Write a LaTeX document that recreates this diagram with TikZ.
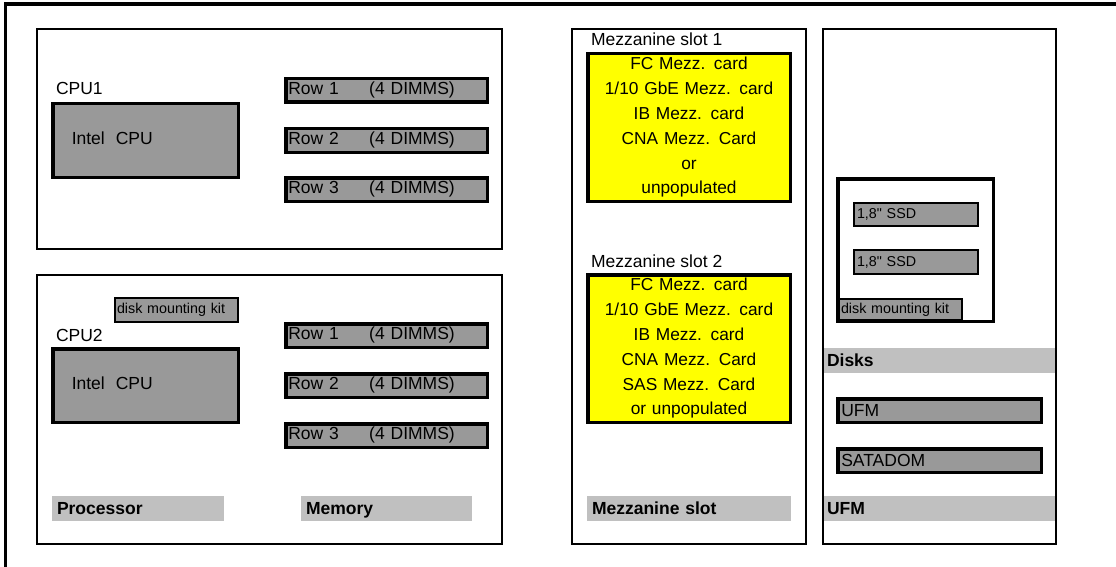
\documentclass[tikz,border=0pt]{standalone}
\usepackage{fontspec}
\setmainfont{Liberation Sans}
% same face without TeX input ligatures, so that " stays a straight inch mark
\newfontfamily\inchfont{Liberation Sans}
\definecolor{chipgray}{HTML}{999999}
\definecolor{bargray}{HTML}{C0C0C0}
\definecolor{cardyellow}{HTML}{FFFF00}
\newcommand\mainsz{\fontsize{17.5}{21}\selectfont}
\newcommand\smallsz{\fontsize{14.3}{17}\selectfont}
\newcommand\cardsz{\fontsize{17.3}{24.8}\selectfont}
\begin{document}
\begin{tikzpicture}[x=1pt,y=-1pt,
  every node/.style={outer sep=0pt, anchor=north west, font=\mainsz},
  bay/.style={draw, line width=2pt, inner sep=0pt},
  chip/.style={draw, line width=3.5pt, fill=chipgray, inner sep=0pt, align=left,
    text height=12.6pt, text depth=4pt},
  slab/.style={chip, inner xsep=2.5pt, text width=196.5pt, minimum height=23.5pt},
  module/.style={chip, inner xsep=3.5pt, text width=196.5pt, minimum height=23.5pt, text depth=0.5pt},
  part/.style={draw, line width=2pt, fill=chipgray, inner sep=0pt, align=left, font=\smallsz},
  bar/.style={fill=bargray, inner sep=0pt, inner xsep=5pt, minimum height=25pt, align=left,
    font=\mainsz\bfseries, text height=12.6pt, text depth=1.5pt},
  card/.style={draw, line width=3.5pt, fill=cardyellow, inner sep=0pt, align=center,
    font=\cardsz, text width=202.5pt, minimum height=147.5pt},
  caption/.style={inner sep=0pt, anchor=west}
]
\useasboundingbox (0,0) rectangle (1116,567);

% chassis edge
\draw[line width=3.5pt] (5.5,567) -- (5.5,3.8) -- (1116,3.8);

% bays
\node[bay, minimum width=465pt, minimum height=220pt] (procA) at (37,29) {};
\node[bay, minimum width=465pt, minimum height=269pt] (procB) at (37,275) {};
\node[bay, minimum width=234pt, minimum height=515pt] (mezz) at (572,29) {};
\node[bay, minimum width=233pt, minimum height=515pt] (ufmbay) at (823,29) {};

% processors
\node[caption] (cpu1lbl) at (56,88) {CPU1};
\node[chip, inner xsep=19pt, text width=147.5pt, minimum height=73.5pt] (cpu1) at (52.75,103.75) {Intel\hspace{11pt}CPU};
\node[part, inner xsep=2pt, text width=119pt, minimum height=24pt] (kitA) at (115,298) {disk mounting kit};
\node[caption] (cpu2lbl) at (56,335) {CPU2};
\node[chip, inner xsep=19pt, text width=147.5pt, minimum height=73.5pt] (cpu2) at (52.75,348.75) {Intel\hspace{11pt}CPU};

% memory rows
\node[slab] (a1) at (285.75,78.75)  {\makebox[81pt][l]{Row 1}(4 DIMMS)};
\node[slab] (a2) at (285.75,128.75) {\makebox[81pt][l]{Row 2}(4 DIMMS)};
\node[slab] (a3) at (285.75,177.75) {\makebox[81pt][l]{Row 3}(4 DIMMS)};
\node[slab] (b1) at (285.75,323.75) {\makebox[81pt][l]{Row 1}(4 DIMMS)};
\node[slab] (b2) at (285.75,373.75) {\makebox[81pt][l]{Row 2}(4 DIMMS)};
\node[slab] (b3) at (285.75,423.75) {\makebox[81pt][l]{Row 3}(4 DIMMS)};

% mezzanine slots
\node[caption] (slot1lbl) at (591,39) {Mezzanine slot 1};
\node[card] (slot1) at (587.75,53.75) {FC Mezz. card\\1/10 GbE Mezz. card\\IB Mezz. card\\CNA Mezz. Card\\or\\unpopulated};
\node[caption] (slot2lbl) at (591,261) {Mezzanine slot 2};
\node[card] (slot2) at (587.75,274.75) {FC Mezz. card\\1/10 GbE Mezz. card\\IB Mezz. card\\CNA Mezz. Card\\SAS Mezz. Card\\or unpopulated};

% disk cage
\node[draw, line width=3.5pt, fill=white, inner sep=0pt, minimum width=155.5pt, minimum height=142.5pt] (cage) at (837.75,178.75) {};
\node[part, inner xsep=3pt, text width=118pt, minimum height=23pt] (ssd1) at (854,203) {\inchfont 1,8" SSD};
\node[part, inner xsep=3pt, text width=118pt, minimum height=24pt] (ssd2) at (854,250) {\inchfont 1,8" SSD};
\node[part, inner xsep=2pt, text width=119pt, minimum height=21pt] (kitB) at (839,299) {disk mounting kit};

% flash modules
\node[module] (ufm) at (837.75,398.75) {UFM};
\node[module] (satadom) at (837.75,448.75) {SATADOM};

% section captions
\node[bar, text width=162pt] (procbar) at (52,496) {Processor};
\node[bar, text width=161pt] (membar) at (301,496) {Memory};
\node[bar, text width=194pt] (mezzbar) at (587,496) {Mezzanine slot};
\node[bar, inner xsep=3pt, text width=225pt] (diskbar) at (824,348) {Disks};
\node[bar, inner xsep=3pt, text width=225pt] (ufmbar) at (824,496) {UFM};
\end{tikzpicture}
\end{document}
